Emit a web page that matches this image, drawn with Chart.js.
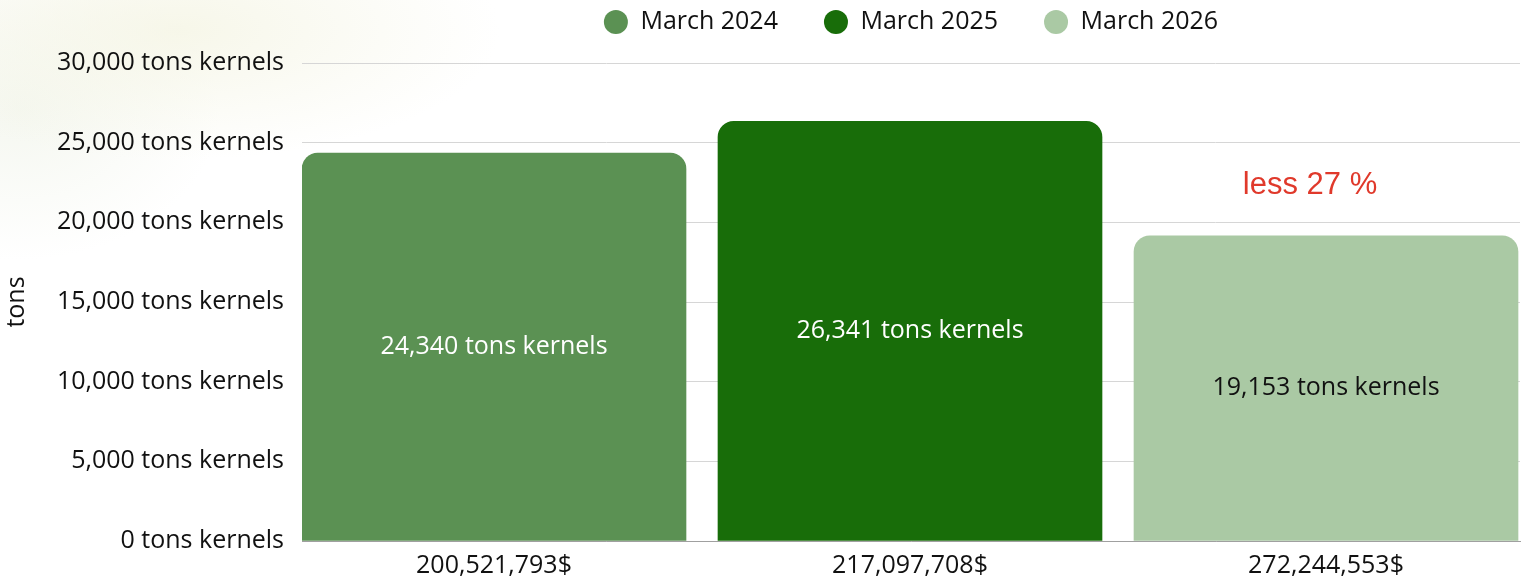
<!DOCTYPE html>
<html>
<head>
<meta charset="utf-8">
<script src="https://cdn.jsdelivr.net/npm/chart.js@4/dist/chart.umd.min.js"></script>
<style>
  html, body { margin: 0; padding: 0; }
  body {
    width: 1529px; height: 584px; overflow: hidden;
    background:
      radial-gradient(ellipse 320px 130px at 180px 30px, rgba(244,244,226,0.75), rgba(255,255,255,0) 100%),
      radial-gradient(ellipse 200px 150px at 20px 110px, rgba(238,242,230,0.6), rgba(255,255,255,0) 100%),
      #ffffff;
  }
  #wrap { position: absolute; left: 0; top: 0; width: 1529px; height: 584px; }
</style>
</head>
<body>
<div id="wrap"><canvas id="c" width="1529" height="584"></canvas></div>
<script>
// ---- data ----
const categories = ['200,521,793$', '217,097,708$', '272,244,553$'];
const seriesNames = ['March 2024', 'March 2025', 'March 2026'];
const tonValues = [24340, 26341, 19153];
const yTickValues = [0, 5000, 10000, 15000, 20000, 25000, 30000];
const tickSuffix = ' tons kernels';
const axisTitle = 'tons';
const noteText = 'less 27 %';
const noteValue = 22300;

// ---- styles ----
const barColors = ['#5b9153', '#186d09', '#aac9a4'];
const labelColors = ['#ffffff', '#ffffff', '#111111'];
const mainFont = "'Open Sans', sans-serif";

const fmt = v => v.toLocaleString('en-US');

const valueLabels = {
  id: 'valueLabels',
  afterDatasetsDraw(chart) {
    const ctx = chart.ctx;
    ctx.save();
    ctx.textAlign = 'center';
    ctx.textBaseline = 'middle';
    chart.data.datasets.forEach((ds, i) => {
      const meta = chart.getDatasetMeta(i);
      if (meta.hidden) return;
      meta.data.forEach((el, j) => {
        const p = el.getProps(['x', 'y', 'base'], true);
        ctx.font = '25px ' + mainFont;
        ctx.fillStyle = labelColors[i];
        ctx.fillText(fmt(ds.data[j].y) + tickSuffix, p.x, (p.y + p.base) / 2);
      });
    });
    const el = chart.getDatasetMeta(2).data[0];
    if (el) {
      ctx.font = '31px "Liberation Sans", Arial, sans-serif';
      ctx.fillStyle = '#e0392b';
      ctx.fillText(noteText, el.x - 16, chart.scales.y.getPixelForValue(noteValue));
    }
    ctx.restore();
  }
};

const chart = new Chart(document.getElementById('c'), {
  type: 'bar',
  data: {
    datasets: seriesNames.map((name, i) => ({
      label: name,
      data: [{ x: i, y: tonValues[i] }],
      backgroundColor: barColors[i],
      borderRadius: { topLeft: 16, topRight: 16, bottomLeft: 0, bottomRight: 0 },
      borderSkipped: 'bottom',
      barThickness: 384,
      grouped: false
    }))
  },
  options: {
    responsive: false,
    animation: false,
    layout: { padding: { left: 0, right: 9, top: -36.5, bottom: -7 } },
    plugins: {
      tooltip: { enabled: false },
      legend: {
        position: 'top',
        fullSize: false,
        labels: {
          usePointStyle: true,
          pointStyle: 'circle',
          pointStyleWidth: 24,
          boxWidth: 24,
          boxHeight: 17,
          padding: 46,
          color: '#111111',
          font: { family: mainFont, size: 25 }
        }
      },
      title: {
        display: true,
        text: '',
        weight: 500,
        font: { size: 10, lineHeight: 1 },
        padding: { top: 0, bottom: 8.5 }
      }
    },
    scales: {
      x: {
        type: 'linear',
        offset: false,
        min: -192 / 416,
        max: 1026 / 416,
        afterBuildTicks: s => { s.ticks = categories.map((_, i) => ({ value: i })); },
        grid: { display: false, drawTicks: false, offset: false },
        border: { display: true, color: '#a0a0a0', width: 1 },
        ticks: {
          callback: v => categories[v],
          color: '#111111',
          font: { family: mainFont, size: 25 },
          padding: 10,
          maxRotation: 0,
          autoSkip: false
        }
      },
      y: {
        min: 0,
        max: 30000,
        afterBuildTicks: s => { s.ticks = yTickValues.map(v => ({ value: v })); },
        afterFit: s => { s.width = 302; },
        grid: { color: '#d6d6d6', drawTicks: false, lineWidth: 1 },
        border: { display: false },
        ticks: {
          callback: v => fmt(v) + tickSuffix,
          color: '#111111',
          font: { family: mainFont, size: 25 },
          padding: 18
        },
        title: {
          display: true,
          text: axisTitle,
          color: '#111111',
          font: { family: mainFont, size: 25 },
          padding: { top: 2, bottom: 0 }
        }
      }
    }
  },
  plugins: [valueLabels]
});
</script>
</body>
</html>
